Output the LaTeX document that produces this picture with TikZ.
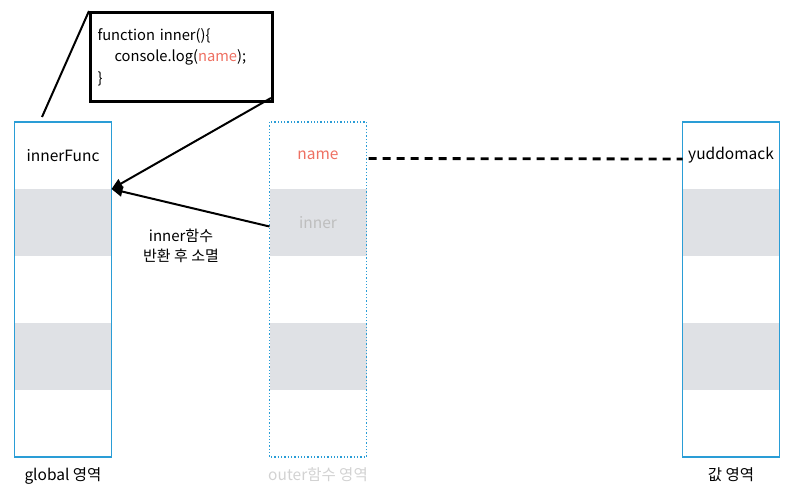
\documentclass[tikz,border=0pt]{standalone}
\usepackage{fontspec}
\setmainfont{Noto Sans CJK KR}
\usetikzlibrary{arrows.meta,positioning}
\definecolor{memblue}{RGB}{42,157,214}
\definecolor{cellgray}{RGB}{223,225,229}
\definecolor{namered}{RGB}{238,112,98}
\definecolor{fadegray}{RGB}{190,190,190}

\begin{document}
\begin{tikzpicture}[x=1pt,y=-1pt,
    cell/.style={minimum width=97pt,minimum height=67pt,inner sep=0pt,outer sep=0pt},
    celltext/.style={font=\fontsize{15.5}{18}\selectfont},
    arealabel/.style={font=\fontsize{15.5}{18}\selectfont,anchor=north},
    ptr/.style={line width=2pt,-{Triangle[length=11pt,width=10pt]}}]
    \useasboundingbox (0,0) rectangle (810,502);

    % memory columns
    \foreach \col/\x in {gcell/63,ocell/318,vcell/731} {
        \foreach \i in {1,...,5} {
            \pgfmathsetmacro{\y}{122+67*(\i-1)+33.5}
            \ifodd\i
                \node[cell] (\col\i) at (\x,\y) {};
            \else
                \node[cell,fill=cellgray] (\col\i) at (\x,\y) {};
            \fi
        }
    }
    \draw[memblue,line width=1.2pt] (gcell1.north west) rectangle (gcell5.south east);
    \draw[memblue,line width=1.3pt,dotted] (ocell1.north west) rectangle (ocell5.south east);
    \draw[memblue,line width=1.2pt] (vcell1.north west) rectangle (vcell5.south east);

    \node[celltext] (funcname) at (gcell1) {innerFunc};
    \node[celltext,text=namered] (varname) at (ocell1) {name};
    \node[celltext,text=fadegray] (innername) at (ocell2) {inner};
    \node[celltext] (strval) at (vcell1) {yuddomack};

    \node[arealabel] (globallabel) at (63,464) {global 영역};
    \node[arealabel,text=fadegray!70] (outerlabel) at (318,464) {outer함수 영역};
    \node[arealabel] (valuelabel) at (731,464) {값 영역};

    % function body
    \node[draw,line width=3pt,anchor=north west,text width=168pt,minimum height=89pt,
          align=left,inner xsep=7pt,font=\fontsize{14.7}{21.5}\selectfont] (codebox) at (89,11)
        {function inner()\{\\\hspace*{17pt}console.log(\textcolor{namered}{name});\\\}\\[-4pt]};
    \coordinate (gtop) at (42,117);
    \draw[line width=2pt] (gtop) -- (codebox.north west);

    % pointers
    \coordinate (codecorner) at (271,98);
    \draw[ptr] (codecorner) -- (gcell1.south east);
    \path (ocell2.west) ++(0,4) coordinate (innerptr);
    \draw[ptr] (innerptr) -- (gcell1.south east);
    \node[font=\fontsize{15}{20}\selectfont,align=center] (gonelabel) at (181,246) {inner함수\\반환 후 소멸};

    \draw[line width=2.8pt,dash pattern=on 8pt off 6pt] (ocell1.east) ++(2,3) -- (vcell1.west |- 0,159);
\end{tikzpicture}
\end{document}
